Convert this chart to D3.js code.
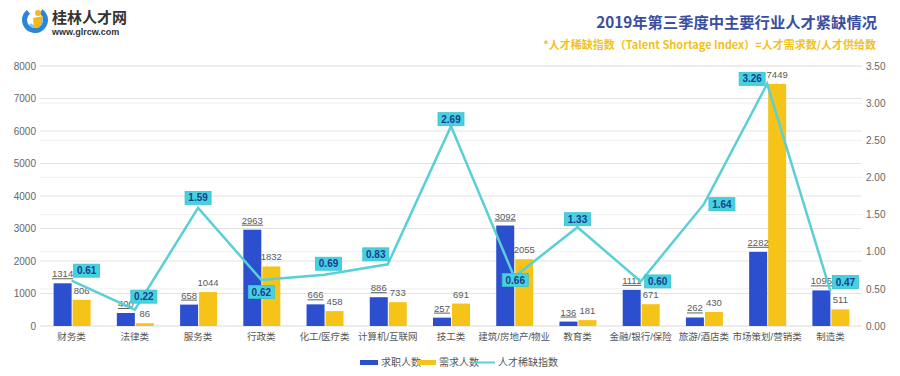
<!DOCTYPE html>
<html><head><meta charset="utf-8">
<script src="https://cdn.jsdelivr.net/npm/d3@7"></script>
<style>
html,body{margin:0;padding:0;background:#fff;}
svg{display:block;font-family:"Noto Sans CJK SC","Liberation Sans",sans-serif;}
</style></head>
<body><svg id="c" width="900" height="376"></svg>
<script>
const categories = ["财务类","法律类","服务类","行政类","化工/医疗类","计算机/互联网","技工类","建筑/房地产/物业","教育类","金融/银行/保险","旅游/酒店类","市场策划/营销类","制造类"];
const seekers = [1314,400,658,2963,666,886,257,3092,136,1111,262,2282,1095];
const demand = [806,86,1044,1832,458,733,691,2055,181,671,430,7449,511];
const shortage = [0.61,0.22,1.59,0.62,0.69,0.83,2.69,0.66,1.33,0.60,1.64,3.26,0.47];
const leftTicks = [0,1000,2000,3000,4000,5000,6000,7000,8000];
const rightTicks = [0,0.5,1,1.5,2,2.5,3,3.5];
const seriesNames = ["求职人数","需求人数","人才稀缺指数"];
const title = "2019年第三季度中主要行业人才紧缺情况";
const subtitle = "*人才稀缺指数（Talent Shortage Index）=人才需求数/人才供给数";

// label placement (styling)
const labelOffsets = [[15,-10],[9,-13],[0,-10],[0,12],[4,-11],[-12,-10],[0,-7],[1,3],[0,-8],[17,0],[18,0],[-15,-5],[15,-9]];

const C = {blue:"#2c4fcf", yellow:"#f6c419", line:"#5ad0d6", box:"#45d2e0", boxText:"#1d3b8c"};
const svg = d3.select("#c");
const x = d3.scaleBand().domain(categories).range([40,862]);
const yL = d3.scaleLinear().domain([0,8000]).range([326,66]);
const yR = d3.scaleLinear().domain([0,3.5]).range([326,66]);
const bw = 18;

// grid
svg.append("g").selectAll("line").data(rightTicks).join("line")
  .attr("x1",40).attr("x2",862).attr("y1",d=>yR(d)).attr("y2",d=>yR(d))
  .attr("stroke","#f0f0f0").attr("stroke-width",1);
svg.append("g").selectAll("line").data(leftTicks).join("line")
  .attr("x1",40).attr("x2",862).attr("y1",d=>yL(d)).attr("y2",d=>yL(d))
  .attr("stroke","#e3e3e3").attr("stroke-width",1);

// axes
const axL = svg.append("g").attr("transform","translate(40,0)")
  .call(d3.axisLeft(yL).tickValues(leftTicks).tickFormat(d3.format("d")).tickSize(0).tickPadding(4));
const axR = svg.append("g").attr("transform","translate(862,0)")
  .call(d3.axisRight(yR).tickValues(rightTicks).tickFormat(d3.format(".2f")).tickSize(0).tickPadding(4));
const axB = svg.append("g").attr("transform","translate(0,326)")
  .call(d3.axisBottom(x).tickSize(0).tickPadding(7));
[axL,axR,axB].forEach(a=>{a.select(".domain").remove();
  a.selectAll("text").attr("fill","#666").attr("font-size",10).attr("font-family","'Liberation Sans','Noto Sans CJK SC',sans-serif");});
axB.selectAll("text").attr("font-size",9.5).attr("fill","#555");

// bars
svg.append("g").selectAll("rect").data(seekers).join("rect")
  .attr("x",(d,i)=>x(categories[i])+x.bandwidth()/2-bw).attr("width",bw)
  .attr("y",d=>yL(d)).attr("height",d=>yL(0)-yL(d)).attr("fill",C.blue);
svg.append("g").selectAll("rect").data(demand).join("rect")
  .attr("x",(d,i)=>x(categories[i])+x.bandwidth()/2+1).attr("width",bw)
  .attr("y",d=>yL(d)).attr("height",d=>yL(0)-yL(d)).attr("fill",C.yellow);

// bar labels
svg.append("g").selectAll("text").data(seekers).join("text")
  .attr("x",(d,i)=>x(categories[i])+x.bandwidth()/2-bw/2).attr("y",d=>yL(d)-6)
  .attr("text-anchor","middle").attr("font-size",9.5).attr("fill","#5a5a5a")
  .attr("text-decoration","underline")
  .attr("font-family","'Liberation Sans',sans-serif").text(d=>d);
svg.append("g").selectAll("text").data(demand).join("text")
  .attr("x",(d,i)=>x(categories[i])+x.bandwidth()/2+1+bw/2).attr("y",d=>yL(d)-6)
  .attr("text-anchor","middle").attr("font-size",9.5).attr("fill","#5a5a5a")
  .attr("font-family","'Liberation Sans',sans-serif").text(d=>d);

// line
const cx = i=>x(categories[i])+x.bandwidth()/2;
svg.append("path").datum(shortage)
  .attr("d",d3.line().x((d,i)=>cx(i)).y(d=>yR(d)))
  .attr("fill","none").attr("stroke",C.line).attr("stroke-width",2.5);

// index labels
const lg = svg.append("g").selectAll("g").data(shortage).join("g")
  .attr("transform",(d,i)=>`translate(${cx(i)+labelOffsets[i][0]},${yR(d)+labelOffsets[i][1]})`);
lg.append("rect").attr("x",-13).attr("y",-6.5).attr("width",26).attr("height",13)
  .attr("fill",C.box).attr("stroke","#3bbfcf").attr("stroke-width",0.8);
lg.append("text").attr("text-anchor","middle").attr("dy","0.36em")
  .attr("font-size",10).attr("font-weight","bold").attr("fill",C.boxText)
  .attr("font-family","'Liberation Sans',sans-serif").text(d=>d.toFixed(2));

// title
svg.append("text").attr("x",877).attr("y",28).attr("text-anchor","end")
  .attr("font-size",15.3).attr("font-weight","bold").attr("fill","#3b4e9e").text(title);
svg.append("text").attr("x",876).attr("y",49).attr("text-anchor","end")
  .attr("font-size",11).attr("font-weight","bold").attr("fill","#f2c21b").text(subtitle);

// logo
const logo = svg.append("g");
logo.append("path").attr("d",d3.arc()({innerRadius:8,outerRadius:13,startAngle:0.6,endAngle:5.6}))
  .attr("transform","translate(35,20)").attr("fill","#2a86d8");
logo.append("path").attr("d",d3.arc()({innerRadius:5,outerRadius:8,startAngle:1.2,endAngle:4.0}))
  .attr("transform","translate(35,20)").attr("fill","#7cc4f0");
logo.append("circle").attr("cx",38).attr("cy",13).attr("r",3).attr("fill","#f3b81c");
logo.append("path").attr("d","M33,18 L43,16 L40,26 Q37,30 34,27 Z").attr("fill","#f3b81c");
logo.append("text").attr("x",52).attr("y",23).attr("font-size",15).attr("font-weight","bold")
  .attr("fill","#333").text("桂林人才网");
logo.append("text").attr("x",52).attr("y",35).attr("font-size",9).attr("font-weight","bold")
  .attr("fill","#333").attr("font-family","'Liberation Sans',sans-serif").text("www.glrcw.com");

// legend
const leg = svg.append("g").attr("font-size",10).attr("fill","#555");
leg.append("rect").attr("x",360).attr("y",360).attr("width",18).attr("height",5).attr("fill",C.blue);
leg.append("text").attr("x",381).attr("y",366).attr("fill","#555").text(seriesNames[0]);
leg.append("rect").attr("x",417).attr("y",360).attr("width",19).attr("height",5).attr("fill",C.yellow);
leg.append("text").attr("x",439).attr("y",366).attr("fill","#555").text(seriesNames[1]);
leg.append("line").attr("x1",474).attr("x2",495).attr("y1",362.5).attr("y2",362.5).attr("stroke",C.line).attr("stroke-width",2);
leg.append("text").attr("x",498).attr("y",366).attr("fill","#555").text(seriesNames[2]);
</script></body></html>
